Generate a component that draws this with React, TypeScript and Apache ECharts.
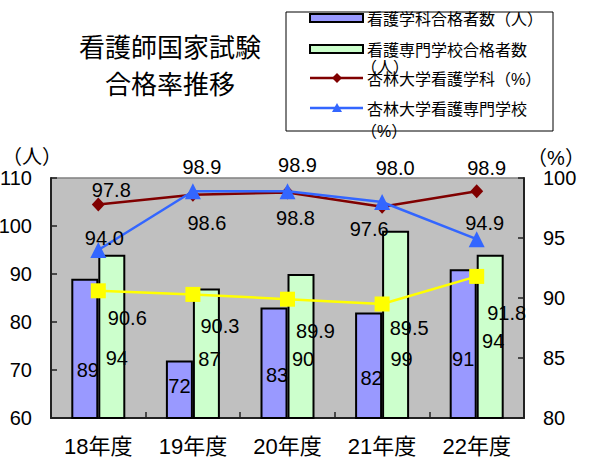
import { useEffect, useRef } from 'react';
import * as echarts from 'echarts';

// 年度
const years = ['18年度', '19年度', '20年度', '21年度', '22年度'];
// 合格者数（人）
const deptPassers = [89, 72, 83, 82, 91];
const schoolPassers = [94, 87, 90, 99, 94];
// 合格率（%）
const kyorinDeptRate = [97.8, 98.6, 98.8, 97.6, 98.9];
const kyorinSchoolRate = [94.0, 98.9, 98.9, 98.0, 94.9];
const nationalRate = [90.6, 90.3, 89.9, 89.5, 91.8];

// axis ranges
const leftMin = 60, leftMax = 110, leftStep = 10;
const rightMin = 80, rightMax = 100, rightStep = 5;

// hand-placed label nudges [dx, dy]
const deptLabelOffsets = [[3, 21], [0, -4], [3, 12], [3, 12], [0, 15]];
const schoolLabelOffsets = [[5, 21], [3, 5], [2, 12], [6, 34], [3, 4]];
const kyorinDeptLabelOffsets = [[13, -14], [14, 28], [8, 26], [-13, 22], [10, -23]];
const kyorinSchoolLabelOffsets = [[6, -12], [9, -24], [10, -26], [13, -34], [8, -16]];
const nationalLabelOffsets = [[29, 27], [27, 32], [28, 32], [27, 24], [30, 37]];

const FONT = "'Liberation Sans', 'Noto Sans CJK JP', sans-serif";

const withOffsets = (values: number[], offsets: number[][], fmt?: (v: number) => string) =>
  values.map((v, i) => ({
    value: v,
    label: { offset: offsets[i], formatter: fmt ? fmt(v) : String(v) },
  }));

const oneDecimal = (v: number) => v.toFixed(1);

export default function App() {
  const ref = useRef<HTMLDivElement>(null);

  useEffect(() => {
    const chart = echarts.init(ref.current!, null, { renderer: 'svg' });
    const axisLine = { show: true, lineStyle: { color: '#222', width: 2 } };
    const axisTick = { show: true, inside: true, length: 6, lineStyle: { color: '#222', width: 1.5 } };
    const numLabel = { color: '#000', fontSize: 20, fontFamily: FONT, margin: 19 };
    const dataLabel = { show: true, position: 'inside', color: '#000', fontSize: 20, fontFamily: FONT };

    chart.setOption({
      animation: false,
      backgroundColor: '#fff',
      textStyle: { fontFamily: FONT },
      grid: {
        left: 51,
        right: 65,
        top: 178,
        bottom: 43,
        containLabel: false,
        outerBoundsMode: 'none',
        show: true,
        backgroundColor: '#c0c0c0',
        borderColor: '#808080',
        borderWidth: 1.5,
      },
      xAxis: {
        type: 'category',
        data: years,
        axisLine,
        axisTick,
        axisLabel: { color: '#000', fontSize: 22, fontFamily: FONT, margin: 17 },
        splitLine: { show: false },
      },
      yAxis: [
        {
          type: 'value',
          min: leftMin,
          max: leftMax,
          interval: leftStep,
          axisLine,
          axisTick,
          axisLabel: numLabel,
          splitLine: { show: false },
        },
        {
          type: 'value',
          position: 'right',
          min: rightMin,
          max: rightMax,
          interval: rightStep,
          axisLine,
          axisTick,
          axisLabel: numLabel,
          splitLine: { show: false },
        },
      ],
      series: [
        {
          name: '看護学科合格者数（人）',
          type: 'bar',
          barWidth: 27,
          barGap: '0%',
          itemStyle: { color: '#9999ff', borderColor: '#000', borderWidth: 2 },
          label: dataLabel,
          data: withOffsets(deptPassers, deptLabelOffsets),
          z: 2,
        },
        {
          name: '看護専門学校合格者数（人）',
          type: 'bar',
          barWidth: 27,
          barGap: '0%',
          itemStyle: { color: '#ccffcc', borderColor: '#000', borderWidth: 2 },
          label: dataLabel,
          data: withOffsets(schoolPassers, schoolLabelOffsets),
          z: 2,
        },
        {
          name: '全国平均（%）',
          type: 'line',
          yAxisIndex: 1,
          symbol: 'rect',
          symbolSize: 15,
          lineStyle: { color: '#ffff00', width: 2.5 },
          itemStyle: { color: '#ffff00' },
          label: dataLabel,
          data: withOffsets(nationalRate, nationalLabelOffsets, oneDecimal),
          z: 3,
        },
        {
          name: '杏林大学看護学科（%）',
          type: 'line',
          yAxisIndex: 1,
          symbol: 'diamond',
          symbolSize: [13, 14],
          lineStyle: { color: '#800000', width: 2.5 },
          itemStyle: { color: '#800000' },
          label: dataLabel,
          data: withOffsets(kyorinDeptRate, kyorinDeptLabelOffsets, oneDecimal),
          z: 4,
        },
        {
          name: '杏林大学看護専門学校（%）',
          type: 'line',
          yAxisIndex: 1,
          symbol: 'triangle',
          symbolSize: 16,
          lineStyle: { color: '#3366ff', width: 2.5 },
          itemStyle: { color: '#3366ff' },
          label: dataLabel,
          data: withOffsets(kyorinSchoolRate, kyorinSchoolLabelOffsets, oneDecimal),
          z: 5,
        },
      ],
      graphic: [
        // title
        {
          type: 'text',
          x: 170,
          y: 66,
          style: {
            text: '看護師国家試験\n合格率推移',
            fill: '#000',
            fontSize: 26,
            fontFamily: FONT,
            lineHeight: 37,
            align: 'center',
            verticalAlign: 'middle',
          },
        },
        // axis units
        {
          type: 'text',
          x: 32,
          y: 157,
          style: { text: '（人）', fill: '#000', fontSize: 20, fontFamily: FONT, align: 'center', verticalAlign: 'middle' },
        },
        {
          type: 'text',
          x: 556,
          y: 158,
          style: { text: '（%）', fill: '#000', fontSize: 20, fontFamily: FONT, align: 'center', verticalAlign: 'middle' },
        },
        // legend
        {
          type: 'group',
          z: 10,
          children: [
            {
              type: 'rect',
              shape: { x: 286, y: 12, width: 267, height: 119 },
              style: { fill: '#fff', stroke: '#000', lineWidth: 1 },
            },
            {
              type: 'rect',
              shape: { x: 310, y: 14, width: 53, height: 8 },
              style: { fill: '#9999ff', stroke: '#000', lineWidth: 2 },
            },
            {
              type: 'rect',
              shape: { x: 310, y: 45, width: 53, height: 8 },
              style: { fill: '#ccffcc', stroke: '#000', lineWidth: 2 },
            },
            {
              type: 'line',
              shape: { x1: 310, y1: 78, x2: 363, y2: 78 },
              style: { stroke: '#800000', lineWidth: 2.5 },
            },
            {
              type: 'polygon',
              shape: { points: [[337, 73], [342, 78], [337, 83], [332, 78]] },
              style: { fill: '#800000' },
            },
            {
              type: 'line',
              shape: { x1: 310, y1: 108, x2: 363, y2: 108 },
              style: { stroke: '#3366ff', lineWidth: 2.5 },
            },
            {
              type: 'polygon',
              shape: { points: [[337, 103], [342, 112], [332, 112]] },
              style: { fill: '#3366ff' },
            },
            {
              type: 'text',
              x: 367,
              y: 19,
              style: { text: '看護学科合格者数（人）', fill: '#000', fontSize: 16, fontFamily: FONT, verticalAlign: 'middle' },
            },
            {
              type: 'text',
              x: 367,
              y: 50,
              style: { text: '看護専門学校合格者数', fill: '#000', fontSize: 16, fontFamily: FONT, verticalAlign: 'middle' },
            },
            {
              type: 'text',
              x: 361,
              y: 67,
              style: { text: '（人）', fill: '#000', fontSize: 16, fontFamily: FONT, verticalAlign: 'middle' },
            },
            {
              type: 'text',
              x: 367,
              y: 79,
              style: { text: '杏林大学看護学科（%）', fill: '#000', fontSize: 16, fontFamily: FONT, verticalAlign: 'middle' },
            },
            {
              type: 'text',
              x: 367,
              y: 109,
              style: { text: '杏林大学看護専門学校', fill: '#000', fontSize: 16, fontFamily: FONT, verticalAlign: 'middle' },
            },
            {
              type: 'text',
              x: 361,
              y: 131,
              style: { text: '（%）', fill: '#000', fontSize: 16, fontFamily: FONT, verticalAlign: 'middle' },
            },
          ],
        },
      ],
    });

    return () => chart.dispose();
  }, []);

  return <div ref={ref} style={{ position: 'fixed', left: 0, top: 0, width: 589, height: 461 }} />;
}
